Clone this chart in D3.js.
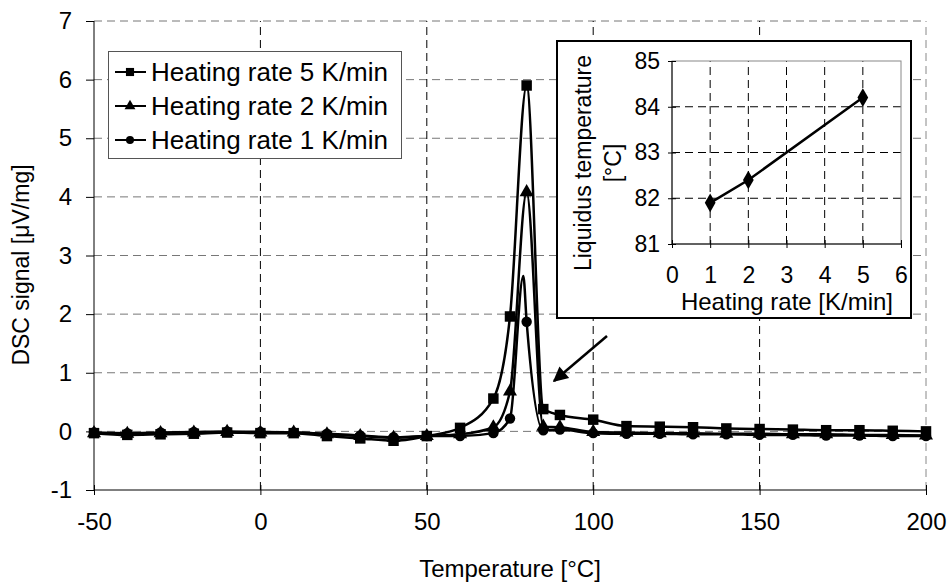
<!DOCTYPE html>
<html>
<head>
<meta charset="utf-8">
<script src="https://cdn.jsdelivr.net/npm/d3@7"></script>
<style>
  body { margin: 0; background: #fff; }
  text { font-family: "Liberation Sans", Arial, sans-serif; fill: #000; }
</style>
</head>
<body>
<svg id="chart" width="949" height="583"></svg>
<script>
// main DSC curves
var temps = [-50, -40, -30, -20, -10, 0, 10, 20, 30, 40, 50, 60, 70, 75, 80, 85, 90,
             100, 110, 120, 130, 140, 150, 160, 170, 180, 190, 200];
var sig5 = [-0.03, -0.06, -0.05, -0.04, -0.02, -0.03, -0.03, -0.08, -0.12, -0.16, -0.08, 0.06, 0.56, 1.96, 5.9, 0.38, 0.28,
            0.2, 0.09, 0.08, 0.07, 0.05, 0.04, 0.03, 0.02, 0.02, 0.01, 0.0];
var sig2 = [-0.03, -0.04, -0.03, -0.02, -0.01, -0.02, -0.02, -0.05, -0.08, -0.11, -0.08, -0.05, 0.07, 0.68, 4.08, 0.08, 0.07,
            -0.01, -0.02, -0.03, -0.03, -0.04, -0.04, -0.05, -0.05, -0.06, -0.06, -0.07];
var temps1 = [-50, -40, -30, -20, -10, 0, 10, 20, 30, 40, 50, 60, 70, 75, 79, 80, 85, 90,
              100, 110, 120, 130, 140, 150, 160, 170, 180, 190, 200];
var sig1 = [-0.02, -0.03, -0.02, -0.01, 0.0, -0.01, -0.02, -0.04, -0.07, -0.1, -0.08, -0.08, -0.03, 0.22, 2.65, 1.87, 0.02, 0.03,
            -0.03, -0.04, -0.04, -0.05, -0.05, -0.06, -0.06, -0.07, -0.07, -0.08, -0.08];
var seriesNames = ["Heating rate 5 K/min", "Heating rate 2 K/min", "Heating rate 1 K/min"];

// inset
var rates = [1, 2, 5];
var liquidus = [81.9, 82.4, 84.2];

var xTicks = [-50, 0, 50, 100, 150, 200];
var yTicks = [-1, 0, 1, 2, 3, 4, 5, 6, 7];

function plain(d) { return String(d); }

function createChart() {
    var svg = d3.select("#chart");

    var x = d3.scaleLinear().domain([-50, 200]).range([94, 926]);
    var y = d3.scaleLinear().domain([-1, 7]).range([490, 21]);

    // grid
    var grid = svg.append("g");
    grid.selectAll("line.h")
        .data(yTicks.filter(function(d) { return d > -1; }))
        .enter().append("line")
        .attr("x1", x(-50)).attr("x2", x(200))
        .attr("y1", function(d) { return y(d); }).attr("y2", function(d) { return y(d); })
        .attr("stroke", "#777").attr("stroke-dasharray", "8,5");
    grid.selectAll("line.v")
        .data(xTicks.filter(function(d) { return d > -50; }))
        .enter().append("line")
        .attr("y1", y(-1)).attr("y2", y(7))
        .attr("x1", function(d) { return x(d); }).attr("x2", function(d) { return x(d); })
        .attr("stroke", function(d) { return d == 200 ? "#888" : "#000"; })
        .attr("stroke-dasharray", "8,5");

    // axes
    var xAxis = svg.append("g").attr("transform", "translate(0," + y(-1) + ")")
        .call(d3.axisBottom(x).tickValues(xTicks).tickFormat(plain).tickSize(5).tickPadding(18));
    xAxis.selectAll(".tick line").attr("y1", -5);
    var yAxis = svg.append("g").attr("transform", "translate(" + x(-50) + ",0)")
        .call(d3.axisLeft(y).tickValues(yTicks).tickFormat(plain).tickSize(8).tickPadding(14));
    svg.selectAll(".domain").attr("stroke", "#000");
    xAxis.select(".domain").attr("d", "M" + x(-50) + ",0H" + x(200));
    yAxis.select(".domain").attr("d", "M0," + y(-1) + "V" + y(7));
    svg.selectAll(".tick text").style("font-size", "24px")
        .style("font-family", "'Liberation Sans', Arial, sans-serif");

    svg.append("text").attr("x", 510).attr("y", 577).attr("text-anchor", "middle")
        .style("font-size", "24px").text("Temperature [°C]");
    svg.append("text").attr("transform", "translate(29,265) rotate(-90)")
        .attr("text-anchor", "middle").style("font-size", "23px")
        .text("DSC signal [μV/mg]");

    var line = d3.line()
        .x(function(d) { return x(d[0]); })
        .y(function(d) { return y(d[1]); })
        .curve(d3.curveMonotoneX);

    var series = [
        { pts: d3.zip(temps, sig5), sym: d3.symbolSquare, size: 110 },
        { pts: d3.zip(temps, sig2), sym: d3.symbolTriangle, size: 85 },
        { pts: d3.zip(temps1, sig1), sym: d3.symbolCircle, size: 85 }
    ];

    var sg = svg.append("g");
    series.forEach(function(s) {
        sg.append("path").attr("d", line(s.pts))
            .attr("fill", "none").attr("stroke", "#000").attr("stroke-width", 2.5);
        sg.selectAll(null)
            .data(s.pts.filter(function(p) { return p[0] % 5 == 0; }))
            .enter().append("path")
            .attr("d", d3.symbol().type(s.sym).size(s.size))
            .attr("transform", function(p) { return "translate(" + x(p[0]) + "," + y(p[1]) + ")"; })
            .attr("fill", "#000");
    });

    // legend
    var lg = svg.append("g");
    lg.append("rect").attr("x", 108.5).attr("y", 51.5).attr("width", 293).attr("height", 107)
        .attr("fill", "#fff").attr("stroke", "#555");
    seriesNames.forEach(function(name, i) {
        var ly = 72 + i * 34;
        lg.append("line").attr("x1", 115).attr("x2", 146).attr("y1", ly).attr("y2", ly)
            .attr("stroke", "#000").attr("stroke-width", 2);
        lg.append("path").attr("d", d3.symbol().type(series[i].sym).size(series[i].size * 0.6))
            .attr("transform", "translate(130," + ly + ")");
        lg.append("text").attr("x", 151).attr("y", ly).attr("dy", "0.35em")
            .style("font-size", "26px").text(name);
    });

    // arrow
    svg.append("defs").append("marker").attr("id", "head")
        .attr("viewBox", "0 0 10 10").attr("refX", 9).attr("refY", 5)
        .attr("markerWidth", 6.5).attr("markerHeight", 6).attr("orient", "auto")
        .append("path").attr("d", "M0,0L10,5L0,10Z").attr("fill", "#000");
    svg.append("line").attr("x1", 607).attr("y1", 336).attr("x2", 554).attr("y2", 381)
        .attr("stroke", "#000").attr("stroke-width", 2.5).attr("marker-end", "url(#head)");

    // inset
    var inset = svg.append("g");
    inset.append("rect").attr("x", 557).attr("y", 41).attr("width", 354).attr("height", 277)
        .attr("fill", "#fff").attr("stroke", "#000").attr("stroke-width", 2);

    var ix = d3.scaleLinear().domain([0, 6]).range([672, 901]);
    var iy = d3.scaleLinear().domain([81, 85]).range([244, 61]);

    inset.selectAll("line.ih").data([82, 83, 84]).enter().append("line")
        .attr("x1", ix(0)).attr("x2", ix(6))
        .attr("y1", function(d) { return iy(d); }).attr("y2", function(d) { return iy(d); })
        .attr("stroke", "#000").attr("stroke-dasharray", "8,5");
    inset.selectAll("line.iv").data([1, 2, 3, 4, 5]).enter().append("line")
        .attr("y1", iy(81)).attr("y2", iy(85))
        .attr("x1", function(d) { return ix(d); }).attr("x2", function(d) { return ix(d); })
        .attr("stroke", "#000").attr("stroke-dasharray", "8,5");
    inset.append("rect").attr("x", ix(0)).attr("y", iy(85))
        .attr("width", ix(6) - ix(0)).attr("height", iy(81) - iy(85))
        .attr("fill", "none").attr("stroke", "#888");

    var ixAxis = inset.append("g").attr("transform", "translate(0," + iy(81) + ")")
        .call(d3.axisBottom(ix).ticks(6).tickSize(4).tickPadding(19));
    ixAxis.selectAll(".tick line").attr("y1", -4);
    var iyAxis = inset.append("g").attr("transform", "translate(" + ix(0) + ",0)")
        .call(d3.axisLeft(iy).ticks(4).tickSize(4).tickPadding(8));
    iyAxis.selectAll(".tick line").attr("x1", 4).attr("x2", -4);
    inset.selectAll(".domain").attr("stroke", "#000");
    ixAxis.select(".domain").attr("d", "M" + ix(0) + ",0H" + ix(6));
    iyAxis.select(".domain").attr("d", "M0," + iy(81) + "V" + iy(85));
    inset.selectAll(".tick text").style("font-size", "23px")
        .style("font-family", "'Liberation Sans', Arial, sans-serif");

    inset.append("path")
        .attr("d", d3.line().x(function(d) { return ix(d[0]); }).y(function(d) { return iy(d[1]); })(d3.zip(rates, liquidus)))
        .attr("fill", "none").attr("stroke", "#000").attr("stroke-width", 2.5);
    inset.selectAll(null).data(d3.zip(rates, liquidus)).enter().append("path")
        .attr("d", d3.symbol().type(d3.symbolDiamond).size(100))
        .attr("transform", function(d) { return "translate(" + ix(d[0]) + "," + iy(d[1]) + ")"; });

    inset.append("text").attr("x", 787).attr("y", 310).attr("text-anchor", "middle")
        .style("font-size", "24px").text("Heating rate [K/min]");
    inset.append("text").attr("transform", "translate(591,163) rotate(-90)")
        .attr("text-anchor", "middle").style("font-size", "23px").text("Liquidus temperature");
    inset.append("text").attr("transform", "translate(621,163) rotate(-90)")
        .attr("text-anchor", "middle").style("font-size", "23px").text("[°C]");
}

createChart();
</script>
</body>
</html>
